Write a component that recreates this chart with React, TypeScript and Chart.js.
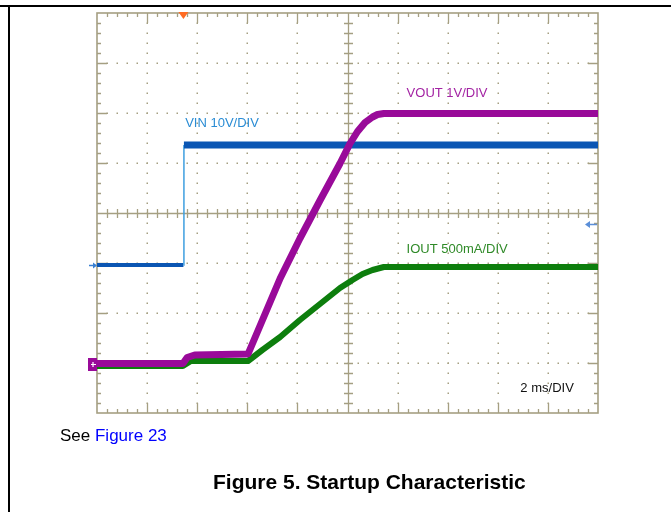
import React, { useEffect, useRef } from 'react';
import { Chart, registerables } from 'chart.js';

Chart.register(...registerables);

// ---- Data (time in ms, 2 ms/div; channel values in their own units) ----
const vinTimeMs = [0, 3.45, 3.47, 20];
const vinVolts = [0, 0, 24, 24];

const voutTimeMs = [0, 3.43, 3.6, 3.9, 6.03, 7.31, 8.1, 8.9, 9.7, 10.1, 10.4, 10.7, 11.0, 11.2, 11.45, 20];
const voutVolts = [0, 0, 0.12, 0.17, 0.19, 1.7, 2.5, 3.26, 4.0, 4.4, 4.64, 4.82, 4.93, 4.98, 5.0, 5.0];

const ioutTimeMs = [0, 3.43, 3.75, 6.03, 6.6, 7.31, 8.1, 8.9, 9.7, 10.2, 10.6, 11.0, 11.45, 20];
const ioutAmps = [0, 0, 0.05, 0.05, 0.16, 0.29, 0.46, 0.62, 0.78, 0.86, 0.92, 0.96, 0.99, 0.99];

const channelLabels = ['VIN 10V/DIV', 'VOUT 1V/DIV', 'IOUT 500mA/DIV'];
const timebaseLabel = '2 ms/DIV';
const triggerTimeMs = 3.45;
const triggerLevelV = 8.2;

const X_DIVS = 10;
const Y_DIVS = 8;
const MS_PER_DIV = 2;

const GRID = '#a59f82';
const BLUE = '#0b56b3';
const BLUE_LIGHT = '#3f9fe0';
const PURPLE = '#990a99';
const GREEN = '#0d7e0d';

function pts(xs: number[], ys: number[]) {
  return xs.map((x, i) => ({ x, y: ys[i] }));
}

const scopePlugin = {
  id: 'scopeGrid',
  beforeDatasetsDraw(chart: any) {
    const { ctx, chartArea: a } = chart;
    const xs = chart.scales.x;
    const ys = chart.scales.yDiv;
    ctx.save();
    ctx.fillStyle = GRID;
    ctx.strokeStyle = GRID;
    for (let d = 1; d < X_DIVS; d++) {
      if (d === X_DIVS / 2) continue;
      const px = Math.round(xs.getPixelForValue(d * MS_PER_DIV));
      for (let m = 1; m < Y_DIVS * 5; m++) {
        const py = Math.round(ys.getPixelForValue(m / 5));
        ctx.fillRect(px - 0.5, py - 0.5, 1.5, 1.5);
      }
    }
    for (let d = 1; d < Y_DIVS; d++) {
      if (d === Y_DIVS / 2) continue;
      const py = Math.round(ys.getPixelForValue(d));
      for (let m = 1; m < X_DIVS * 5; m++) {
        const px = Math.round(xs.getPixelForValue((m / 5) * MS_PER_DIV));
        ctx.fillRect(px - 0.5, py - 0.5, 1.5, 1.5);
      }
    }
    ctx.lineWidth = 1.6;
    ctx.strokeRect(a.left, a.top, a.right - a.left, a.bottom - a.top);
    ctx.lineWidth = 1.3;
    ctx.beginPath();
    for (let m = 1; m < X_DIVS * 5; m++) {
      const px = Math.round(xs.getPixelForValue((m / 5) * MS_PER_DIV)) + 0.5;
      const len = m % 5 === 0 ? 10 : 4;
      ctx.moveTo(px, a.top);
      ctx.lineTo(px, a.top + len);
      ctx.moveTo(px, a.bottom);
      ctx.lineTo(px, a.bottom - len);
    }
    for (let m = 1; m < Y_DIVS * 5; m++) {
      const py = Math.round(ys.getPixelForValue(m / 5)) + 0.5;
      const len = m % 5 === 0 ? 10 : 4;
      ctx.moveTo(a.left, py);
      ctx.lineTo(a.left + len, py);
      ctx.moveTo(a.right, py);
      ctx.lineTo(a.right - len, py);
    }
    const cx = Math.round(xs.getPixelForValue((X_DIVS / 2) * MS_PER_DIV)) + 0.5;
    const cy = Math.round(ys.getPixelForValue(Y_DIVS / 2)) + 0.5;
    ctx.moveTo(a.left, cy);
    ctx.lineTo(a.right, cy);
    ctx.moveTo(cx, a.top);
    ctx.lineTo(cx, a.bottom);
    for (let m = 1; m < X_DIVS * 5; m++) {
      const px = Math.round(xs.getPixelForValue((m / 5) * MS_PER_DIV)) + 0.5;
      ctx.moveTo(px, cy - 4.5);
      ctx.lineTo(px, cy + 4.5);
    }
    for (let m = 1; m < Y_DIVS * 5; m++) {
      const py = Math.round(ys.getPixelForValue(m / 5)) + 0.5;
      ctx.moveTo(cx - 4.5, py);
      ctx.lineTo(cx + 4.5, py);
    }
    ctx.stroke();
    ctx.restore();
  },
  afterDatasetsDraw(chart: any) {
    const { ctx, chartArea: a } = chart;
    const xs = chart.scales.x;
    const ys = chart.scales.yDiv;
    ctx.save();
    const tx = xs.getPixelForValue(triggerTimeMs);
    ctx.fillStyle = '#ff6c24';
    ctx.beginPath();
    ctx.moveTo(tx - 5, a.top - 1);
    ctx.lineTo(tx + 5, a.top - 1);
    ctx.lineTo(tx, a.top + 6);
    ctx.closePath();
    ctx.fill();
    const vg = Math.round(chart.scales.yVin.getPixelForValue(0)) + 0.5;
    ctx.strokeStyle = '#3a80d2';
    ctx.fillStyle = '#3a80d2';
    ctx.lineWidth = 1.5;
    ctx.beginPath();
    ctx.moveTo(a.left - 8, vg);
    ctx.lineTo(a.left - 1, vg);
    ctx.stroke();
    ctx.beginPath();
    ctx.moveTo(a.left, vg);
    ctx.lineTo(a.left - 4, vg - 3);
    ctx.lineTo(a.left - 4, vg + 3);
    ctx.closePath();
    ctx.fill();
    const tl = Math.round(chart.scales.yVin.getPixelForValue(triggerLevelV)) + 0.5;
    ctx.strokeStyle = '#5b8fd8';
    ctx.fillStyle = '#5b8fd8';
    ctx.beginPath();
    ctx.moveTo(a.right - 9, tl);
    ctx.lineTo(a.right - 1, tl);
    ctx.stroke();
    ctx.beginPath();
    ctx.moveTo(a.right - 13, tl);
    ctx.lineTo(a.right - 8, tl - 3.5);
    ctx.lineTo(a.right - 8, tl + 3.5);
    ctx.closePath();
    ctx.fill();
    const og = Math.round(chart.scales.yVout.getPixelForValue(0));
    ctx.fillStyle = PURPLE;
    ctx.fillRect(a.left - 9, og - 6, 9, 13);
    ctx.strokeStyle = '#ffffff';
    ctx.lineWidth = 1.2;
    ctx.beginPath();
    ctx.moveTo(a.left - 6, og + 0.5);
    ctx.lineTo(a.left - 1, og + 0.5);
    ctx.moveTo(a.left - 4, og - 2);
    ctx.lineTo(a.left - 4, og + 3);
    ctx.stroke();

    ctx.font = '13px "Liberation Sans", Arial, sans-serif';
    ctx.textBaseline = 'alphabetic';
    const lbl = (t: string, ms: number, div: number, c: string) => {
      ctx.fillStyle = c;
      ctx.fillText(t, xs.getPixelForValue(ms), ys.getPixelForValue(div));
    };
    lbl(channelLabels[0], 3.52, 5.72, '#2a8cd4');
    lbl(channelLabels[1], 12.36, 6.32, '#a323a3');
    lbl(channelLabels[2], 12.36, 3.2, '#2f8a28');
    lbl(timebaseLabel, 16.9, 0.42, '#111111');
    ctx.restore();
  },
};

export default function App() {
  const ref = useRef<HTMLCanvasElement | null>(null);
  useEffect(() => {
    if (!ref.current) return;
    const chart = new Chart(ref.current, {
      type: 'line',
      data: {
        datasets: [
          {
            label: 'VOUT',
            data: pts(voutTimeMs, voutVolts),
            yAxisID: 'yVout',
            borderColor: PURPLE,
            borderWidth: 7,
            pointRadius: 0,
            tension: 0,
            borderJoinStyle: 'round',
          },
          {
            label: 'IOUT',
            data: pts(ioutTimeMs, ioutAmps),
            yAxisID: 'yIout',
            borderColor: GREEN,
            borderWidth: 6,
            pointRadius: 0,
            tension: 0,
            borderJoinStyle: 'round',
          },
          {
            label: 'VIN',
            data: pts(vinTimeMs, vinVolts),
            yAxisID: 'yVin',
            borderColor: BLUE,
            borderWidth: 7,
            pointRadius: 0,
            tension: 0,
            segment: {
              borderColor: (c: any) => (c.p0.parsed.y !== c.p1.parsed.y ? BLUE_LIGHT : BLUE),
              borderWidth: (c: any) =>
                c.p0.parsed.y !== c.p1.parsed.y ? 1.5 : c.p0.parsed.y === 0 ? 4 : 7,
            },
          },
        ] as any,
      },
      options: {
        responsive: false,
        animation: false,
        devicePixelRatio: 1,
        layout: { padding: { left: 97, right: 73, top: 13, bottom: 99 } },
        plugins: { legend: { display: false }, tooltip: { enabled: false } },
        scales: {
          x: { type: 'linear', min: 0, max: X_DIVS * MS_PER_DIV, display: false },
          yDiv: { type: 'linear', min: 0, max: Y_DIVS, display: false },
          yVin: { type: 'linear', min: -29.6, max: 50.4, display: false },
          yVout: { type: 'linear', min: -0.99, max: 7.01, display: false },
          yIout: { type: 'linear', min: -0.47, max: 3.53, display: false },
        },
      } as any,
      plugins: [scopePlugin],
    });
    return () => chart.destroy();
  }, []);

  return (
    <div
      style={{
        position: 'absolute',
        left: 0,
        top: 0,
        width: 671,
        height: 512,
        background: '#fff',
        overflow: 'hidden',
        fontFamily: '"Liberation Sans", Arial, sans-serif',
      }}
    >
      <canvas ref={ref} width={671} height={512} style={{ position: 'absolute', left: 0, top: 0 }} />
      <div style={{ position: 'absolute', left: 0, top: 5, width: 671, height: 2, background: '#000' }} />
      <div style={{ position: 'absolute', left: 8, top: 5, width: 2, height: 507, background: '#000' }} />
      <div
        style={{
          position: 'absolute',
          left: 60,
          top: 426,
          fontSize: 17,
          lineHeight: 'normal',
          whiteSpace: 'nowrap',
          color: '#000',
        }}
      >
        See <span style={{ color: '#0000ff' }}>Figure 23</span>
      </div>
      <div
        style={{
          position: 'absolute',
          left: 213,
          top: 470,
          fontSize: 21,
          fontWeight: 'bold',
          lineHeight: 'normal',
          whiteSpace: 'nowrap',
          color: '#000',
        }}
      >
        Figure 5. Startup Characteristic
      </div>
    </div>
  );
}
